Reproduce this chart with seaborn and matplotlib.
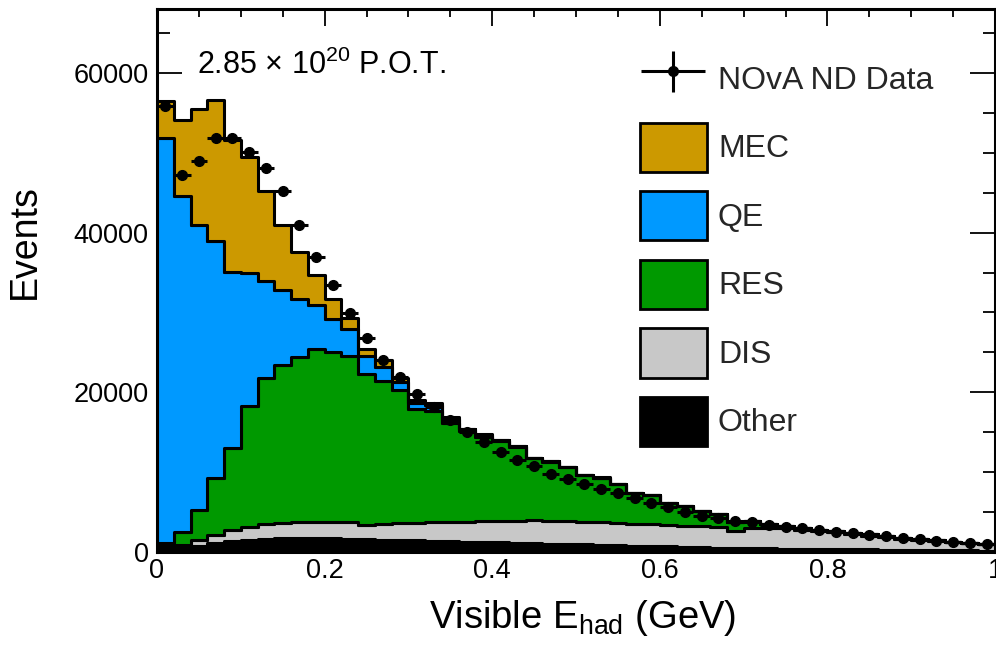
import numpy as np
import pandas as pd
import matplotlib
matplotlib.use("Agg")
import matplotlib.pyplot as plt
import seaborn as sns
from matplotlib.patches import Patch
from matplotlib.legend_handler import HandlerErrorbar
from matplotlib.container import ErrorbarContainer
from matplotlib.ticker import MultipleLocator

# ---------------- data (events per 0.02 GeV bin, 0 - 1 GeV) ----------------
bin_width = 0.02
bin_range = (0.0, 1.0)

other = [500, 600, 750, 1100, 1400, 1550, 1650, 1700, 1700, 1700,
         1700, 1650, 1600, 1550, 1500, 1450, 1400, 1350, 1300, 1250,
         1200, 1150, 1100, 1050, 1000, 950, 900, 850, 800, 750,
         700, 650, 600, 550, 500, 480, 450, 420, 400, 380,
         360, 340, 320, 300, 280, 260, 240, 220, 200, 180]
dis = [200, 300, 750, 1000, 1350, 1600, 1850, 1950, 2000, 2000,
       2100, 2050, 1800, 1950, 2100, 2200, 2300, 2350, 2450, 2600,
       2700, 2750, 2850, 2850, 2850, 2850, 2800, 2750, 2750, 2750,
       2700, 2650, 2600, 2550, 2100, 2570, 2600, 2530, 2400, 2270,
       2090, 1910, 1730, 1550, 1370, 1240, 1110, 980, 880, 770]
res = [400, 1560, 3750, 7190, 10290, 15100, 18340, 19810, 20710, 21760,
       21240, 20800, 18850, 17875, 16650, 14250, 13900, 12500, 11350, 10550,
       10000, 9250, 7830, 7430, 6770, 5790, 5600, 4870, 3840, 3600,
       2750, 2430, 1950, 1630, 1150, 850, 400, 250, 200, 150,
       150, 150, 150, 150, 150, 120, 110, 100, 90, 80]
qe = [50700, 42140, 35650, 29610, 22085, 16650, 12035, 9340, 7290, 5415,
      4160, 3460, 2250, 1785, 1050, 800, 800, 500, 250, 300,
      100, 70, 30, 30, 25, 20, 20, 20, 20, 15,
      10, 10, 10, 10, 10, 10, 5, 5, 5, 5,
      5, 5, 5, 5, 5, 5, 5, 5, 5, 5]
mec = [4700, 9500, 14560, 17700, 16475, 14600, 11285, 8200, 5840, 3875,
       2425, 1340, 900, 840, 500, 300, 300, 200, 110, 130,
       80, 30, 20, 15, 15, 15, 10, 10, 10, 10,
       10, 10, 10, 10, 10, 10, 5, 5, 5, 5,
       5, 5, 5, 5, 5, 5, 5, 5, 5, 5]
nd_data = [55900, 47200, 49000, 51800, 51800, 50100, 48040, 45160, 40900, 37000,
           33460, 29950, 26800, 24050, 21950, 19750, 18100, 16500, 15040, 13790,
           12540, 11580, 10750, 9830, 9080, 8500, 7830, 7330, 6700, 6170,
           5580, 5040, 4500, 4210, 3920, 3700, 3400, 3150, 2950, 2750,
           2550, 2350, 2150, 1950, 1750, 1580, 1400, 1250, 1100, 950]

categories = ["MEC", "QE", "RES", "DIS", "Other"]
palette = {"MEC": "#cc9900", "QE": "#0099ff", "RES": "#009900",
           "DIS": "#c8c8c8", "Other": "#000000"}

xticks = [0, 0.2, 0.4, 0.6, 0.8, 1.0]
xtick_labels = ["0", "0.2", "0.4", "0.6", "0.8", "1"]
yticks = [0, 20000, 40000, 60000]
ytick_labels = ["0", "20000", "40000", "60000"]

# ---------------- long table for seaborn ----------------
n_bins = len(nd_data)
centers = bin_range[0] + bin_width * (np.arange(n_bins) + 0.5)
series = {"MEC": mec, "QE": qe, "RES": res, "DIS": dis, "Other": other}
rows = []
for name in categories:
    for c, v in zip(centers, series[name]):
        rows.append((c, v, name))
df = pd.DataFrame(rows, columns=["E", "w", "comp"])

# ---------------- style ----------------
sns.set_theme(style="ticks")
plt.rcParams["font.family"] = ["Liberation Sans", "DejaVu Sans"]
plt.rcParams["mathtext.fontset"] = "custom"
plt.rcParams["mathtext.rm"] = "Liberation Sans"
plt.rcParams["mathtext.it"] = "Liberation Sans:italic"
plt.rcParams["mathtext.bf"] = "Liberation Sans:bold"

fig = plt.figure(figsize=(9.96, 6.5), dpi=100)
ax = fig.add_axes([157 / 996, 1 - 552 / 650, 838 / 996, 543 / 650])

sns.histplot(data=df, x="E", weights="w", hue="comp", hue_order=categories,
             palette=palette, binwidth=bin_width, binrange=bin_range,
             multiple="stack", element="step",
             fill=True, alpha=1, edgecolor="black", linewidth=2.2,
             legend=False, ax=ax)

data_arr = np.array(nd_data, dtype=float)
eb = ax.errorbar(centers, data_arr, xerr=bin_width / 2, yerr=np.sqrt(data_arr), fmt="o",
                 color="black", ms=7, elinewidth=2.2, capsize=0, zorder=5,
                 label="NOvA ND Data")

ax.set_xlim(0, 1)
ax.set_ylim(0, 68000)
ax.set_xticks(xticks, labels=xtick_labels)
ax.set_yticks(yticks, labels=ytick_labels)
ax.xaxis.set_minor_locator(MultipleLocator(0.05))
ax.yaxis.set_minor_locator(MultipleLocator(5000))
ax.tick_params(which="both", direction="in", top=True, right=True,
               width=1.3, color="black", labelcolor="black")
ax.tick_params(axis="y", which="major", length=18, pad=6, labelsize=19.5)
ax.tick_params(axis="y", which="minor", length=9)
ax.tick_params(axis="x", which="major", length=12, pad=4, labelsize=19.5)
ax.tick_params(axis="x", which="minor", length=6)
for sp in ax.spines.values():
    sp.set_linewidth(2.2)
    sp.set_color("black")

ax.set_ylabel("Events", fontsize=27, color="black")
ax.yaxis.set_label_coords(-0.136, 0.571)
ax.set_xlabel("Visible E$_{\\mathrm{had}}$ (GeV)", fontsize=27.5, color="black")
ax.xaxis.set_label_coords(0.508, -0.085)

ax.text(0.0477, 0.897, "2.85 $\\times$ 10$^{20}$ P.O.T.", transform=ax.transAxes,
        fontsize=22, va="center", ha="left", color="black")

handles = [eb] + [Patch(facecolor=palette[c], edgecolor="black", linewidth=2)
                  for c in categories]
labels = ["NOvA ND Data"] + categories
leg = ax.legend(handles, labels, loc="upper left", bbox_to_anchor=(0.576, 0.917),
                frameon=False, fontsize=23, handlelength=2.1, handleheight=2.0,
                labelspacing=0.6, handletextpad=0.35, borderpad=0, borderaxespad=0,
                handler_map={ErrorbarContainer: HandlerErrorbar(xerr_size=1.0, yerr_size=0.65)})

fig.savefig("out.png", dpi=100)
